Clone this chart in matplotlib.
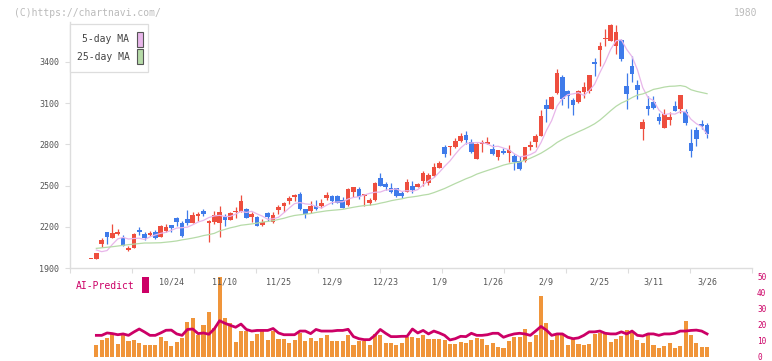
import numpy as np
import matplotlib
matplotlib.use("Agg")
import matplotlib.pyplot as plt
from matplotlib.patches import Rectangle
from matplotlib.transforms import blended_transform_factory

# ---------------- data ----------------
opens = [1963, 1968, 2077, 2162, 2121, 2150, 2118, 2031, 2048, 2177, 2146, 2142, 2162, 2128, 2172, 2213,
         2266, 2230, 2257, 2230, 2281, 2315, 2230, 2233, 2230, 2274, 2250, 2308, 2308, 2330, 2271, 2271,
         2213, 2301, 2233, 2324, 2354, 2390, 2419, 2439, 2327, 2315, 2351, 2349, 2412, 2422, 2427, 2395,
         2359, 2456, 2475, 2422, 2373, 2397, 2555, 2512, 2483, 2483, 2446, 2456, 2497, 2492, 2534, 2517,
         2572, 2630, 2783, 2781, 2781, 2825, 2868, 2818, 2694, 2805, 2805, 2766, 2708, 2754, 2739, 2716,
         2679, 2679, 2781, 2818, 2861, 3087, 3060, 3174, 3293, 3189, 3123, 3109, 3182, 3191, 3400, 3490,
         3567, 3555, 3519, 3560, 3225, 3371, 3233, 2912, 3082, 3109, 2999, 2922, 2980, 3080, 3060, 3034,
         2808, 2905, 2951, 2941]
highs = [1963, 2012, 2116, 2165, 2220, 2184, 2138, 2062, 2157, 2199, 2162, 2169, 2175, 2211, 2218, 2216,
         2274, 2244, 2322, 2308, 2308, 2330, 2250, 2315, 2351, 2291, 2308, 2342, 2434, 2337, 2305, 2281,
         2257, 2305, 2305, 2359, 2383, 2422, 2441, 2456, 2330, 2388, 2393, 2402, 2456, 2432, 2432, 2417,
         2480, 2492, 2490, 2441, 2412, 2524, 2594, 2528, 2517, 2486, 2461, 2548, 2534, 2519, 2608, 2592,
         2665, 2680, 2793, 2790, 2845, 2883, 2898, 2841, 2810, 2832, 2852, 2803, 2762, 2776, 2793, 2732,
         2718, 2783, 2825, 2873, 3050, 3128, 3152, 3351, 3303, 3196, 3138, 3194, 3252, 3306, 3431, 3548,
         3640, 3677, 3670, 3565, 3318, 3444, 3269, 2985, 3149, 3149, 3029, 3058, 3036, 3116, 3163, 3055,
         2910, 2927, 2980, 2958]
lows = [1963, 1965, 2055, 2077, 2118, 2142, 2060, 2021, 2045, 2142, 2106, 2133, 2113, 2126, 2162, 2165,
        2206, 2128, 2215, 2228, 2240, 2279, 2089, 2218, 2128, 2208, 2248, 2266, 2305, 2264, 2237, 2204,
        2208, 2240, 2228, 2291, 2310, 2368, 2388, 2325, 2266, 2303, 2322, 2334, 2395, 2368, 2370, 2335,
        2354, 2417, 2402, 2354, 2359, 2390, 2494, 2470, 2446, 2419, 2412, 2454, 2448, 2487, 2497, 2506,
        2560, 2625, 2706, 2720, 2772, 2815, 2801, 2740, 2690, 2742, 2800, 2720, 2686, 2728, 2674, 2614,
        2614, 2672, 2759, 2779, 2858, 2965, 3055, 3169, 3089, 3067, 3016, 3101, 3140, 3174, 3300, 3373,
        3519, 3550, 3456, 3410, 3058, 3257, 3133, 2832, 3014, 3060, 2949, 2920, 2941, 3040, 3031, 2941,
        2708, 2788, 2910, 2849]
closes = [1963, 2009, 2106, 2128, 2153, 2164, 2062, 2048, 2148, 2162, 2118, 2155, 2121, 2206, 2199, 2193,
          2235, 2135, 2225, 2286, 2293, 2295, 2237, 2284, 2308, 2250, 2301, 2318, 2388, 2266, 2291, 2206,
          2235, 2274, 2286, 2346, 2370, 2407, 2434, 2327, 2295, 2354, 2332, 2373, 2434, 2390, 2376, 2337,
          2475, 2490, 2417, 2437, 2397, 2517, 2497, 2490, 2451, 2424, 2424, 2526, 2468, 2512, 2592, 2577,
          2635, 2665, 2730, 2788, 2825, 2861, 2832, 2745, 2805, 2818, 2818, 2732, 2759, 2739, 2757, 2674,
          2621, 2779, 2796, 2861, 3007, 3060, 3145, 3322, 3128, 3155, 3089, 3189, 3218, 3303, 3388, 3517,
          3577, 3670, 3619, 3424, 3167, 3313, 3196, 2963, 3060, 3065, 2970, 3021, 3002, 3043, 3160, 2958,
          2752, 2842, 2934, 2876]

ma5_head = [np.nan, 2031, 2019, 2027]
ma25_head = [np.nan, 2043, 2047, 2051, 2055, 2060, 2065, 2070, 2074, 2078, 2082, 2082, 2083, 2084,
             2088, 2092, 2097, 2105, 2111, 2118, 2126, 2136, 2143, 2152]

volume = [0, 7.4, 10.4, 11.6, 14.2, 7.9, 13.3, 9.6, 10.4, 8.5, 7.4, 7.2, 7.2, 12.3, 9.7, 6.8,
          9.1, 11.6, 21.7, 24.2, 13.5, 19.8, 28.0, 17.9, 50.0, 24.2, 20.9, 8.9, 16.2, 16.2, 9.7, 14.4,
          15.8, 10.4, 16.2, 11.2, 11.2, 8.3, 10.4, 14.8, 9.7, 11.6, 9.7, 11.8, 13.3, 10.0, 10.0, 10.0,
          13.3, 7.2, 9.7, 9.7, 7.2, 14.2, 13.8, 8.5, 8.5, 7.2, 8.5, 12.3, 12.3, 11.6, 13.3, 11.2,
          11.2, 11.2, 10.4, 7.9, 7.9, 9.1, 8.5, 10.4, 11.6, 11.0, 7.2, 8.5, 6.0, 5.3, 9.7, 12.3,
          12.3, 17.3, 9.1, 13.7, 38.0, 21.1, 10.4, 14.2, 14.2, 7.2, 11.0, 7.9, 7.2, 7.9, 14.2, 14.8,
          14.2, 9.1, 11.0, 12.9, 16.9, 14.8, 10.4, 8.5, 14.8, 7.2, 5.3, 6.6, 8.5, 5.3, 6.6, 22.3,
          13.5, 8.5, 6.0, 6.0]
ai_predict = [np.nan, 13.3, 13.3, 14.8, 14.4, 13.7, 14.2, 13.3, 15.4, 17.3, 15.4, 13.3, 13.3, 14.8, 16.5, 16.6,
              14.2, 13.3, 17.0, 17.3, 14.4, 14.8, 14.0, 17.3, 22.5, 20.9, 19.6, 18.4, 20.4, 17.0, 16.0, 16.4,
              16.4, 16.4, 17.6, 14.8, 13.7, 13.7, 13.7, 16.0, 16.0, 14.4, 17.0, 16.0, 16.0, 16.0, 16.4, 16.4,
              17.1, 12.5, 11.2, 10.6, 10.6, 13.3, 17.0, 14.6, 12.5, 12.5, 12.7, 12.7, 17.3, 14.8, 16.4, 14.2,
              16.0, 14.8, 13.3, 10.4, 11.2, 12.7, 12.5, 14.6, 13.3, 13.3, 13.7, 14.6, 14.6, 12.1, 13.3, 14.2,
              14.6, 14.2, 13.3, 16.0, 18.9, 16.6, 13.3, 14.2, 14.2, 12.1, 11.2, 11.7, 13.3, 15.5, 15.5, 16.0,
              14.6, 14.2, 14.2, 15.5, 14.2, 16.0, 13.3, 12.9, 14.2, 14.2, 13.3, 14.2, 14.2, 14.6, 16.0, 16.0,
              16.4, 16.6, 16.0, 14.2]

date_labels = ["10/24", "11/10", "11/25", "12/9", "12/23", "1/9", "1/26", "2/9", "2/25", "3/11", "3/26"]
label_index = [15, 25, 35, 45, 55, 65, 75, 85, 95, 105, 115]
price_ticks = [1900, 2200, 2500, 2800, 3100, 3400]
ai_ticks = [0, 10, 20, 30, 40, 50]

# ---------------- derived ----------------
o = np.array(opens, float); h = np.array(highs, float)
l = np.array(lows, float); c = np.array(closes, float)
n = len(c)
idx = np.arange(n)
ma5 = np.convolve(c, np.ones(5) / 5, mode="full")[:n]
ma5[:4] = ma5_head
ma25 = np.convolve(c, np.ones(25) / 25, mode="full")[:n]
ma25[:24] = ma25_head

UP = "#EE4E3E"
DOWN = "#3F7BEA"
MA5C = "#E8B6EA"
MA25C = "#B6DBA8"
AXC = "#DDDDDD"
TXT = "#555555"
AIC = "#CC0066"
VOLC = "#F0953A"
MONO = "DejaVu Sans Mono"

W, H = 772, 361
fig = plt.figure(figsize=(W / 100, H / 100), dpi=100)
fig.patch.set_facecolor("white")

XL = (-3.92, 123.39)

# ---------------- AI-Predict panel (drawn first, transparent) ----------------
ax2 = fig.add_axes([70 / W, 4.5 / H, 682 / W, 79.5 / H])
ax2.patch.set_visible(False)
ax2.set_xlim(*XL)
ax2.set_ylim(0, 50)
for s in ax2.spines.values():
    s.set_visible(False)
ax2.bar(idx[1:], np.array(volume[1:]), width=0.76, color=VOLC, linewidth=0, zorder=2)
ax2.plot(idx, ai_predict, color=AIC, linewidth=2.0, zorder=3)
ax2.set_xticks([])
ax2.yaxis.tick_right()
ax2.set_yticks(ai_ticks)
ax2.set_yticklabels([str(t) for t in ai_ticks], fontfamily=MONO, fontsize=5.6, color=AIC)
ax2.tick_params(axis="y", length=0, pad=3.6)

# ---------------- main price axes ----------------
ax = fig.add_axes([70 / W, (H - 268) / H, 682 / W, 246 / H])
ax.patch.set_visible(False)
ax.set_xlim(*XL)
ax.set_ylim(1900, 3691)
for s in ["top", "right"]:
    ax.spines[s].set_visible(False)
for s in ["left", "bottom"]:
    ax.spines[s].set_color(AXC)
    ax.spines[s].set_linewidth(1.0)

colors = [UP if cc >= oo else DOWN for oo, cc in zip(o, c)]
ax.vlines(idx, l, h, colors=colors, linewidth=0.9, zorder=2)
body_lo = np.minimum(o, c)
body_h = np.maximum(np.abs(c - o), 9)
ax.bar(idx, body_h, bottom=body_lo, width=0.86, color=colors, linewidth=0, zorder=3)

ax.plot(idx, ma5, color=MA5C, linewidth=0.9, zorder=4)
ax.plot(idx, ma25, color=MA25C, linewidth=0.9, zorder=4)

ax.set_yticks(price_ticks)
ax.set_yticklabels([str(t) for t in price_ticks], fontfamily=MONO, fontsize=6, color=TXT)
ax.tick_params(axis="y", length=3.6, width=0.8, color=AXC, pad=4.3)
ax.set_xticks(np.linspace(XL[0], XL[1], 12))
ax.set_xticklabels([])
ax.tick_params(axis="x", length=3.6, width=0.8, color=AXC)

trans = blended_transform_factory(ax.transData, ax.transAxes)
for lab, pos in zip(date_labels, label_index):
    ax.text(pos, -14 / 246, lab, transform=trans, ha="center", va="center",
            fontfamily=MONO, fontsize=6, color=TXT, clip_on=False, zorder=10)

# ---------------- overlay texts ----------------
ov = fig.add_axes([0, 0, 1, 1])
ov.set_xlim(0, W)
ov.set_ylim(H, 0)
ov.axis("off")
ov.patch.set_alpha(0)

ov.text(14, 12.5, "(C)https://chartnavi.com/", fontfamily=MONO, fontsize=7,
        color="#BBBBBB", ha="left", va="center")
ov.text(757, 12.5, "1980", fontfamily=MONO, fontsize=7, color="#BBBBBB", ha="right", va="center")

ov.add_patch(Rectangle((70, 24), 78, 47.5, facecolor="white", edgecolor=AXC, linewidth=0.9, zorder=5))
ov.text(129.5, 39, "5-day MA", fontfamily=MONO, fontsize=7, color="#444444", ha="right", va="center", zorder=6)
ov.text(129.5, 56.5, "25-day MA", fontfamily=MONO, fontsize=7, color="#444444", ha="right", va="center", zorder=6)
ov.add_patch(Rectangle((136.5, 31.5), 6, 15, facecolor=MA5C, edgecolor="#555555", linewidth=0.8, zorder=6))
ov.add_patch(Rectangle((136.5, 48.5), 6, 15, facecolor=MA25C, edgecolor="#555555", linewidth=0.8, zorder=6))

ov.text(75.5, 286, "AI-Predict", fontfamily=MONO, fontsize=7, color=AIC, ha="left", va="center")
ov.add_patch(Rectangle((142, 277), 6.5, 16, facecolor=AIC, edgecolor="none"))

fig.savefig("out.png", dpi=100, facecolor="white")
